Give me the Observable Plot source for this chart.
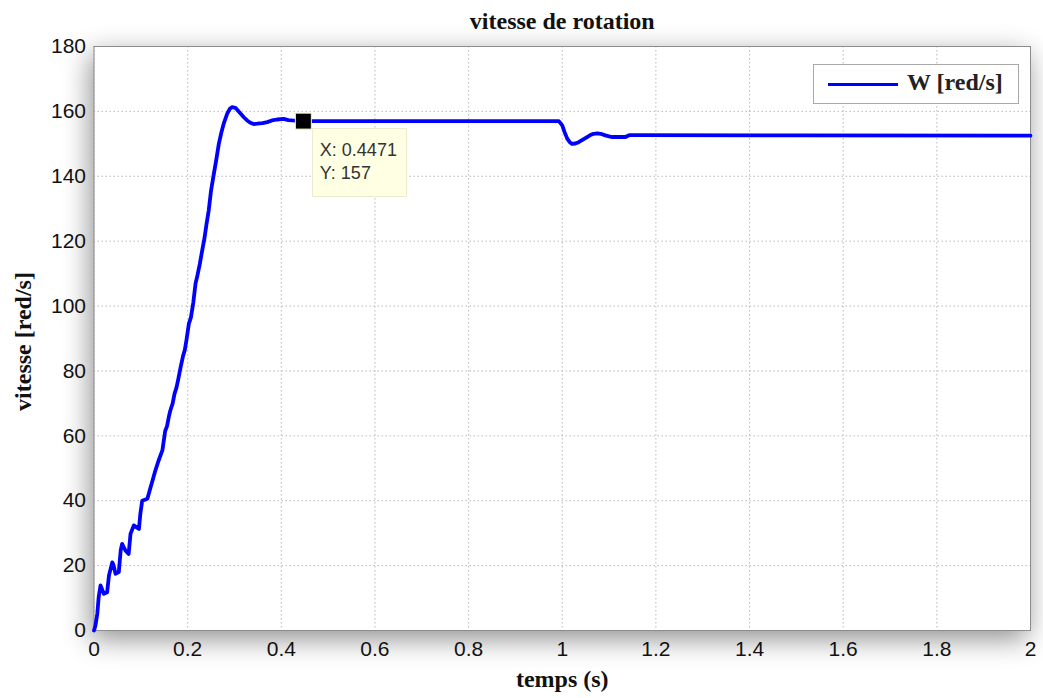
<!DOCTYPE html>
<html>
<head>
<meta charset="utf-8">
<script src="https://cdn.jsdelivr.net/npm/d3@7"></script>
<script src="https://cdn.jsdelivr.net/npm/@observablehq/plot@0.6"></script>
<style>
  html, body { margin: 0; padding: 0; background: #ffffff; }
  #wrap { position: relative; width: 1043px; height: 698px; overflow: hidden; }
  .legend { position: absolute; background: #fff; border: 1px solid #a8a8a8; box-sizing: border-box; }
  .legend .sw { position: absolute; height: 3px; background: #0000ff; }
  .legend .lab { position: absolute; font-family: "Liberation Serif", "DejaVu Serif", serif; font-weight: bold; font-size: 24px; color: #222; white-space: nowrap; }
  .tip { position: absolute; background: #ffffe3; border: 1px solid #ecebd0; box-sizing: border-box; font-family: "Liberation Sans", Arial, sans-serif; font-size: 18px; color: #333; line-height: 23px; padding: 10px 0 0 7px; white-space: nowrap; }
</style>
</head>
<body>
<div id="wrap"></div>
<script>
// ---- data ----
const time = [
  0, 0.003, 0.007, 0.010, 0.014, 0.021, 0.028, 0.032, 0.039, 0.042, 0.046, 0.053,
  0.057, 0.060, 0.067, 0.074, 0.078, 0.085, 0.096, 0.099, 0.103, 0.114, 0.121, 0.124,
  0.131, 0.138, 0.146, 0.152, 0.156, 0.160, 0.163, 0.168, 0.172, 0.176, 0.180, 0.185,
  0.190, 0.194, 0.198, 0.2025, 0.207, 0.212, 0.2168, 0.221, 0.226, 0.231, 0.236, 0.240,
  0.245, 0.250, 0.256, 0.261, 0.2666, 0.272, 0.277, 0.2845, 0.290, 0.295, 0.302, 0.310,
  0.320, 0.327, 0.334, 0.341, 0.3485, 0.360, 0.370, 0.380, 0.391, 0.405, 0.415, 0.423,
  0.4471, 0.600, 0.800, 0.9927, 1.000, 1.005, 1.0106, 1.016, 1.021, 1.028, 1.035, 1.044,
  1.053, 1.060, 1.067, 1.075, 1.082, 1.092, 1.100, 1.107, 1.120, 1.135, 1.144, 1.160,
  1.500, 2.000
];
const speed = [
  0, 1.5, 5.1, 10.3, 13.9, 11.3, 11.8, 17, 21, 20, 17.5, 18,
  24.7, 26.7, 24.7, 23.6, 29.8, 32.4, 31.3, 36, 40, 40.6, 44.2, 45.7,
  49.3, 52.4, 55.5, 61.5, 63, 66, 67.8, 70, 73, 74.8, 77.5, 81.2,
  84.5, 86.5, 90, 94.5, 96.5, 101, 106.9, 109.5, 113, 117.1, 121, 125,
  129.5, 135.6, 140.8, 145, 150, 153.5, 156.2, 159.3, 160.8, 161.3, 161.1, 159.8,
  158.2, 157.2, 156.5, 156.1, 156.2, 156.4, 156.7, 157.2, 157.5, 157.7, 157.3, 157.2,
  157, 157, 157, 157, 155.7, 153.6, 151.6, 150.5, 150, 150.1, 150.5, 151.3,
  152.1, 152.7, 153.1, 153.2, 153.1, 152.6, 152.3, 152.1, 152.1, 152.1, 152.7, 152.7,
  152.6, 152.5
];
const xTicks = [0, 0.2, 0.4, 0.6, 0.8, 1, 1.2, 1.4, 1.6, 1.8, 2];
const xTickLabels = ["0", "0.2", "0.4", "0.6", "0.8", "1", "1.2", "1.4", "1.6", "1.8", "2"];
const yTicks = [0, 20, 40, 60, 80, 100, 120, 140, 160, 180];
const yTickLabels = ["0", "20", "40", "60", "80", "100", "120", "140", "160", "180"];
const tipPoint = [{t: 0.4471, w: 157}];
const tipLines = ["X: 0.4471", "Y: 157"];
const titleText = "vitesse de rotation";
const xLabel = "temps (s)";
const yLabel = "vitesse [red/s]";
const seriesName = "W [red/s]";

const rows = time.map((t, i) => ({t, w: speed[i]}));
const serif = "Liberation Serif, DejaVu Serif, serif";

const plot = Plot.plot({
  width: 1043,
  height: 698,
  marginLeft: 93.5,
  marginRight: 13,
  marginTop: 46,
  marginBottom: 68,
  style: {fontFamily: "Liberation Sans, Arial, sans-serif", fontSize: "21px", color: "#111", background: "transparent"},
  x: {domain: [0, 2]},
  y: {domain: [0, 180]},
  marks: [
    Plot.frame({fill: "#ffffff", stroke: "none"}),
    Plot.gridX(xTicks, {stroke: "#b8b8b8", strokeOpacity: 1, strokeDasharray: "1.5,2.5", strokeWidth: 1}),
    Plot.gridY(yTicks, {stroke: "#b8b8b8", strokeOpacity: 1, strokeDasharray: "1.5,2.5", strokeWidth: 1}),
    Plot.axisX(xTicks, {tickSize: 0, tickPadding: 11, tickFormat: (d, i) => xTickLabels[i], label: null}),
    Plot.axisY(yTicks, {tickSize: 0, tickPadding: 8, tickFormat: (d, i) => yTickLabels[i], label: null}),
    Plot.frame({stroke: "#8c8c8c", strokeWidth: 1}),
    Plot.line(rows, {x: "t", y: "w", stroke: "#0000ff", strokeWidth: 3.8, strokeLinejoin: "round", strokeLinecap: "round"}),
    Plot.dot(tipPoint, {x: "t", y: "w", symbol: "square", r: 9, fill: "#000000", stroke: "#f6f3c0", strokeWidth: 1}),
    Plot.text([titleText], {text: d => d, frameAnchor: "top", lineAnchor: "middle", dy: -25, fontFamily: serif, fontWeight: "bold", fontSize: 24, fill: "#111"}),
    Plot.text([xLabel], {text: d => d, frameAnchor: "bottom", lineAnchor: "middle", dy: 49, fontFamily: serif, fontWeight: "bold", fontSize: 24, fill: "#111"}),
    Plot.text([yLabel], {text: d => d, frameAnchor: "left", textAnchor: "middle", lineAnchor: "middle", dx: -71, dy: 3, rotate: -90, fontFamily: serif, fontWeight: "bold", fontSize: 24, fill: "#111"})
  ]
});

// soft drop shadow behind the plotting area, as in the reference picture
const frameEl = plot.querySelector('[aria-label="frame"]');
if (frameEl) frameEl.style.filter = "drop-shadow(-3px 8px 14px rgba(0,0,0,0.45))";

const wrap = document.getElementById("wrap");
wrap.appendChild(plot);

const xs = plot.scale("x"), ys = plot.scale("y");
const frameRight = xs.apply(2), frameTop = ys.apply(180);

// legend box (top-right inside the axes)
const lg = document.createElement("div");
lg.className = "legend";
lg.style.left = (frameRight - 217) + "px";
lg.style.top = (frameTop + 18) + "px";
lg.style.width = "206px";
lg.style.height = "40px";
const sw = document.createElement("div");
sw.className = "sw";
sw.style.left = "14px"; sw.style.top = "18px"; sw.style.width = "70px";
const lab = document.createElement("div");
lab.className = "lab";
lab.style.left = "93px"; lab.style.top = "4px";
lab.textContent = seriesName;
lg.appendChild(sw); lg.appendChild(lab);
wrap.appendChild(lg);

// data tip box next to the marker
const tip = document.createElement("div");
tip.className = "tip";
const px = xs.apply(tipPoint[0].t), py = ys.apply(tipPoint[0].w);
tip.style.left = (px + 9) + "px";
tip.style.top = (py + 7) + "px";
tip.style.width = "95px";
tip.style.height = "69px";
tip.innerHTML = tipLines.map(s => "<div>" + s + "</div>").join("");
wrap.appendChild(tip);
</script>
</body>
</html>
